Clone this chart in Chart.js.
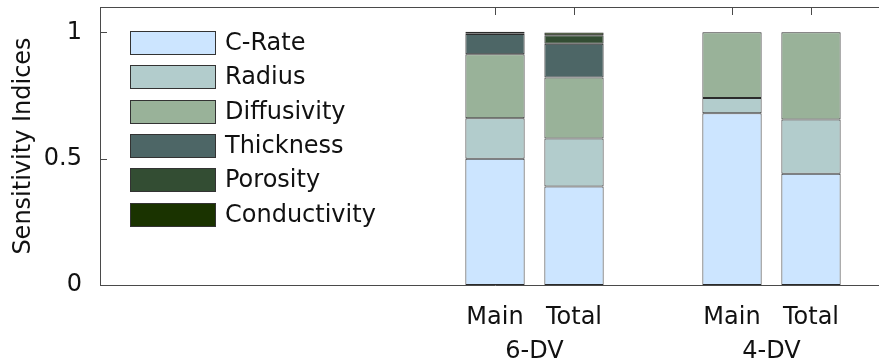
<!DOCTYPE html>
<html>
<head>
<meta charset="utf-8">
<script src="https://cdn.jsdelivr.net/npm/chart.js@4.4.1/dist/chart.umd.min.js"></script>
<style>
  html, body { margin: 0; padding: 0; background: #fff; overflow: hidden; }
</style>
</head>
<body>
<!-- the original figure is cropped on the right: plot box runs a few px past the window -->
<canvas id="myChart" width="890" height="358"></canvas>
<script>
// bars: Main / Total for each design-variable set
const barLabels = ['Main', 'Total', 'Main', 'Total'];
const barSlots = [5, 6, 8, 9];
const groupLabels = ['6-DV', '4-DV'];
const groupSlots = [5.5, 8.5];

const cRate = [0.50, 0.39, 0.68, 0.44];
const radius = [0.16, 0.19, 0.06, 0.215];
const diffusivity = [0.253, 0.241, 0.26, 0.345];
const thickness = [0.08, 0.134, null, null];
const porosity = [0.003, 0.033, null, null];
const conductivity = [0.006, 0.011, null, null];

const yTicks = [0, 0.5, 1];

const FONT = '"DejaVu Sans", sans-serif';
const axisColor = '#4a4a4a';

const makeSet = (label, values, color) => ({
  label: label,
  data: values.map((v, i) => ({ x: barSlots[i], y: v })),
  backgroundColor: color,
  borderColor: '#2b2b2b',
  borderWidth: 1,
  borderSkipped: false,
  barPercentage: 0.75,
  categoryPercentage: 1
});

// legend drawn inside the plot box, top left
const insideLegend = {
  id: 'insideLegend',
  afterDraw(chart) {
    const ctx = chart.ctx;
    const top = chart.chartArea.top;
    ctx.save();
    ctx.font = '24px ' + FONT;
    ctx.textBaseline = 'middle';
    ctx.textAlign = 'left';
    chart.data.datasets.forEach((ds, i) => {
      const y = Math.round(top + 24 + i * 34.3);
      ctx.fillStyle = ds.backgroundColor;
      ctx.fillRect(130, y, 86, 24);
      ctx.strokeStyle = '#333';
      ctx.lineWidth = 1;
      ctx.strokeRect(130.5, y + 0.5, 85, 23);
      ctx.fillStyle = '#111';
      ctx.fillText(ds.label, 225, y + 13);
    });
    ctx.restore();
  }
};

// top/right border and inward tick marks like the original box axes
const boxFrame = {
  id: 'boxFrame',
  afterDatasetsDraw(chart) {
    const ctx = chart.ctx;
    const {left, right, top, bottom} = chart.chartArea;
    const xs = chart.scales.x, ys = chart.scales.y;
    ctx.save();
    ctx.strokeStyle = axisColor;
    ctx.lineWidth = 1;
    ctx.beginPath();
    ctx.moveTo(left, Math.round(top) + 0.5);
    ctx.lineTo(right, Math.round(top) + 0.5);
    ctx.moveTo(Math.round(right) - 0.5, top);
    ctx.lineTo(Math.round(right) - 0.5, bottom);
    ys.ticks.forEach(t => {
      const py = Math.round(ys.getPixelForValue(t.value)) + 0.5;
      ctx.moveTo(left, py);
      ctx.lineTo(left + 7, py);
      ctx.moveTo(right, py);
      ctx.lineTo(right - 7, py);
    });
    xs.ticks.forEach(t => {
      const px = Math.round(xs.getPixelForValue(t.value)) + 0.5;
      ctx.moveTo(px, top);
      ctx.lineTo(px, top + 8);
    });
    ctx.stroke();
    ctx.restore();
  }
};

const ctx = document.getElementById('myChart').getContext('2d');
const myChart = new Chart(ctx, {
  type: 'bar',
  data: {
    datasets: [
      makeSet('C-Rate', cRate, '#cce5ff'),
      makeSet('Radius', radius, '#b2cccc'),
      makeSet('Diffusivity', diffusivity, '#99b299'),
      makeSet('Thickness', thickness, '#4d6666'),
      makeSet('Porosity', porosity, '#334d33'),
      makeSet('Conductivity', conductivity, '#1a3300')
    ]
  },
  options: {
    responsive: false,
    animation: false,
    layout: { padding: { top: 7, right: 0, left: 0, bottom: 0 } },
    plugins: {
      legend: { display: false },
      tooltip: { enabled: false }
    },
    scales: {
      x: {
        type: 'linear',
        position: 'bottom',
        stacked: true,
        offset: false,
        min: 0,
        max: 10,
        weight: 0,
        grid: { display: false, offset: false },
        border: { display: true, color: axisColor, width: 1 },
        afterBuildTicks: (scale) => { scale.ticks = barSlots.map(v => ({ value: v })); },
        afterFit: (scale) => { scale.height = 40; scale.paddingLeft = 0; scale.paddingRight = 0; },
        ticks: {
          autoSkip: false,
          maxRotation: 0,
          padding: 10,
          color: '#111',
          font: { family: FONT, size: 24 },
          callback: (value, index) => barLabels[index]
        }
      },
      x2: {
        type: 'linear',
        position: 'bottom',
        offset: false,
        min: 0,
        max: 10,
        weight: 1,
        grid: { display: false, offset: false },
        border: { display: false },
        afterBuildTicks: (scale) => { scale.ticks = groupSlots.map(v => ({ value: v })); },
        afterFit: (scale) => { scale.height = 33; scale.paddingLeft = 0; scale.paddingRight = 0; },
        ticks: {
          autoSkip: false,
          maxRotation: 0,
          padding: 4,
          color: '#111',
          font: { family: FONT, size: 24 },
          callback: (value, index) => groupLabels[index]
        }
      },
      y: {
        stacked: true,
        min: 0,
        max: 1.1,
        grid: { display: false },
        border: { display: true, color: axisColor, width: 1 },
        afterBuildTicks: (scale) => { scale.ticks = yTicks.map(v => ({ value: v })); },
        afterFit: (scale) => { scale.width = 100; scale.paddingTop = 0; scale.paddingBottom = 0; },
        ticks: {
          padding: 10,
          color: '#111',
          font: { family: FONT, size: 24 },
          callback: (value) => String(value)
        },
        title: {
          display: true,
          text: 'Sensitivity Indices',
          color: '#111',
          font: { family: FONT, size: 24 },
          padding: { top: 9, bottom: 0 }
        }
      }
    }
  },
  plugins: [insideLegend, boxFrame]
});
</script>
</body>
</html>
